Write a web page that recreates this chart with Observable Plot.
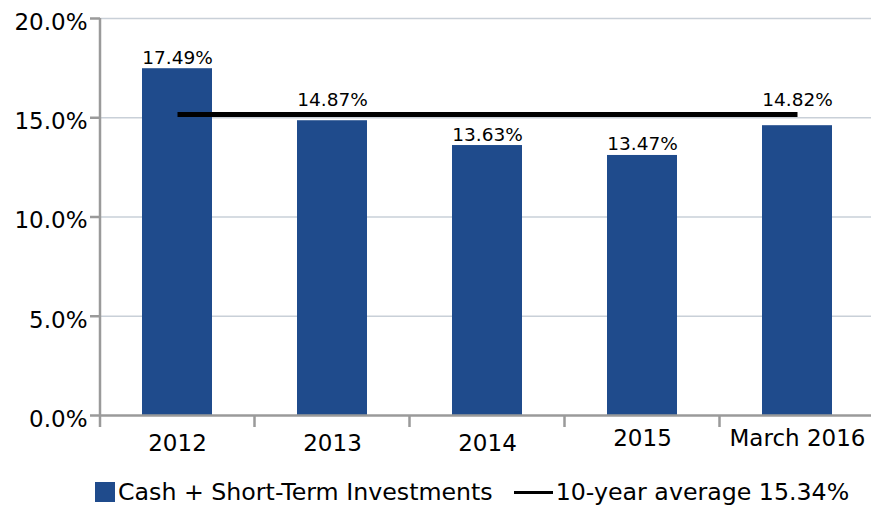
<!DOCTYPE html>
<html>
<head>
<meta charset="utf-8">
<script src="https://cdn.jsdelivr.net/npm/d3@7"></script>
<script src="https://cdn.jsdelivr.net/npm/@observablehq/plot@0.6"></script>
<style>
  html, body { margin: 0; padding: 0; background: #fff; }
  body { width: 871px; height: 507px; overflow: hidden; font-family: "DejaVu Sans", sans-serif; }
  #legend { height: 30px; padding-top: 12px; padding-left: 95px; display: flex; align-items: center; font-size: 23.7px; color: #000; white-space: nowrap; }
  .sw { width: 20px; height: 20px; background: #1f4b8c; margin-right: 3px; }
  .ln { width: 39px; height: 3px; background: #000; margin-left: 21px; margin-right: 3px; }
</style>
</head>
<body>
<div id="chart"></div>
<div id="legend"></div>
<script>
const categories = ["2012", "2013", "2014", "2015", "March 2016"];
const values = [17.47, 14.85, 13.6, 13.1, 14.6];
const valueLabels = ["17.49%", "14.87%", "13.63%", "13.47%", "14.82%"];
const averageValue = 15.16;
const yTicks = [0, 5, 10, 15, 20];
const seriesName = "Cash + Short-Term Investments";
const averageName = "10-year average 15.34%";

const barColor = "#1f4b8c";
const axisColor = "#9a9a9a";

const data = categories.map((c, i) => ({cat: c, value: values[i], label: valueLabels[i]}));
const avgPoints = [categories[0], categories[categories.length - 1]].map(c => ({cat: c, value: averageValue}));
// labels that would collide with the average line are lifted above it
const collides = d => d.value < averageValue && averageValue - d.value < 1.2;

const chart = Plot.plot({
  width: 871,
  height: 465,
  marginLeft: 100,
  marginRight: 0,
  marginTop: 18,
  marginBottom: 50,
  style: {fontFamily: "DejaVu Sans, sans-serif", background: "#fff", overflow: "visible"},
  x: {domain: categories, range: [100, 875], paddingInner: 0.548, paddingOuter: 0.274, label: null},
  y: {domain: [0, 20], label: null},
  marks: [
    Plot.ruleY(yTicks.filter(d => d > 0), {stroke: "#c9d0d8", strokeWidth: 1.5}),
    Plot.barY(data, {x: "cat", y: "value", fill: barColor}),
    Plot.ruleY([0], {stroke: axisColor, strokeWidth: 2.5}),
    Plot.line(avgPoints, {x: "cat", y: "value", stroke: "#000", strokeWidth: 5, strokeLinecap: "butt"}),
    Plot.text(data.filter(d => !collides(d)), {x: "cat", y: "value", text: "label", lineAnchor: "bottom", dy: -5, fontSize: 18.5, fill: "#000"}),
    Plot.text(data.filter(collides), {x: "cat", y: () => averageValue, text: "label", lineAnchor: "bottom", dy: -9, fontSize: 18.5, fill: "#000"}),
    Plot.axisY({ticks: yTicks, tickSize: 10, tickFormat: () => "", stroke: axisColor, strokeWidth: 2.5, label: null}),
    Plot.text(yTicks, {y: d => d, text: d => d.toFixed(1) + "%", frameAnchor: "left", textAnchor: "end", dx: -13, dy: 4, fontSize: 23, fill: "#000"}),
    Plot.axisX({ticks: categories.slice(0, 3), tickSize: 0, tickPadding: 19, fontSize: 23, label: null}),
    Plot.axisX({ticks: categories.slice(3), tickSize: 0, tickPadding: 14, fontSize: 23, label: null})
  ]
});

// axis line decorations derived from Plot's scales
const xs = chart.scale("x");
const ys = chart.scale("y");
const svg = d3.select(chart);
const y0 = ys.apply(0), yTop = ys.apply(20);
const g = svg.append("g").attr("stroke", axisColor).attr("stroke-width", 2.5);
g.append("line").attr("x1", xs.range[0]).attr("x2", xs.range[0]).attr("y1", yTop).attr("y2", y0 + 12);
for (let i = 1; i < categories.length; i++) {
  const bx = xs.apply(categories[i]) - (xs.step - xs.bandwidth) / 2;
  g.append("line").attr("x1", bx).attr("x2", bx).attr("y1", y0).attr("y2", y0 + 12);
}

document.getElementById("chart").appendChild(chart);

const legend = document.getElementById("legend");
legend.innerHTML = `<div class="sw"></div><span>${seriesName}</span><div class="ln"></div><span>${averageName}</span>`;
</script>
</body>
</html>
